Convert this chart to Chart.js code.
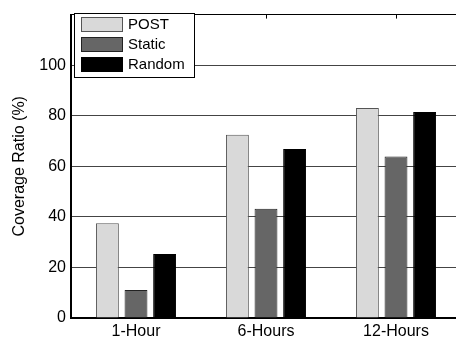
<!DOCTYPE html>
<html lang="en">
<head>
  <meta charset="UTF-8" />
  <title>Coverage Ratio</title>
  <script src="https://cdn.jsdelivr.net/npm/chart.js"></script>
  <style>
    html, body { margin: 0; padding: 0; background: #fff; overflow: hidden; }
    #wrap { width: 456px; height: 342px; overflow: hidden; }
  </style>
</head>
<body>
  <div id="wrap">
    <canvas id="chart" width="470" height="342" style="width:470px;height:342px;"></canvas>
  </div>

  <script>
    const categories = ["1-Hour", "6-Hours", "12-Hours"];
    const seriesNames = ["POST", "Static", "Random"];
    const postValues = [37.5, 72.5, 83.1];
    const staticValues = [11.1, 43.2, 63.9];
    const randomValues = [25.3, 66.8, 81.5];
    const yTicks = [0, 20, 40, 60, 80, 100, 120];

    const fills = ["#d9d9d9", "#666666", "#000000"];
    const borders = ["#555555", "#222222", "#000000"];

    // legend box drawn inside the plot, plus inward tick marks on the top edge
    const extras = {
      id: "extras",
      afterDraw(chart) {
        const c = chart.ctx;
        const x = chart.scales.x;
        const area = chart.chartArea;
        c.save();
        c.strokeStyle = "#000";
        c.lineWidth = 1;
        categories.forEach((cat, i) => {
          const px = Math.round(x.getPixelForValue(i)) + 0.5;
          c.beginPath();
          c.moveTo(px, area.top);
          c.lineTo(px, area.top + 4);
          c.stroke();
        });

        c.fillStyle = "#fff";
        c.fillRect(74, 13, 120, 64);
        c.strokeRect(74.5, 13.5, 120, 64);
        c.font = "15px 'Liberation Sans', Arial, sans-serif";
        c.textBaseline = "middle";
        chart.data.datasets.forEach((ds, i) => {
          const top = 17 + i * 20;
          c.fillStyle = ds.backgroundColor;
          c.fillRect(81, top, 42, 15);
          c.strokeStyle = ds.borderColor;
          c.strokeRect(81.5, top + 0.5, 41, 14);
          c.fillStyle = "#000";
          c.fillText(ds.label, 128, top + 8);
        });
        c.restore();
      }
    };

    new Chart(document.getElementById("chart").getContext("2d"), {
      type: "bar",
      data: {
        labels: categories,
        datasets: [postValues, staticValues, randomValues].map((vals, i) => ({
          label: seriesNames[i],
          data: vals,
          backgroundColor: fills[i],
          borderColor: borders[i],
          borderWidth: 1,
          categoryPercentage: 0.66,
          barPercentage: 0.8
        }))
      },
      options: {
        responsive: false,
        animation: false,
        layout: { padding: { top: 11, right: 9, left: 0, bottom: 0 } },
        plugins: { legend: { display: false }, tooltip: { enabled: false } },
        scales: {
          x: {
            grid: { display: false, drawTicks: false },
            border: { display: true, color: "#000", width: 2 },
            ticks: {
              color: "#000",
              font: { family: "'Liberation Sans', Arial, sans-serif", size: 16 },
              padding: 4
            },
            afterFit(scale) { scale.height = 24; }
          },
          y: {
            min: 0,
            max: 120,
            afterBuildTicks(scale) { scale.ticks = yTicks.map(v => ({ value: v })); },
            grid: {
              color: ctx => (ctx.tick && ctx.tick.value === 120 ? "#000" : "#444"),
              lineWidth: 1,
              drawTicks: false
            },
            border: { display: true, color: "#000", width: 2 },
            ticks: {
              color: "#000",
              padding: 5,
              font: { family: "'Liberation Sans', Arial, sans-serif", size: 16 },
              callback: v => (v === 120 ? "" : v)
            },
            title: {
              display: true,
              text: "Coverage Ratio (%)",
              color: "#000",
              font: { family: "'Liberation Sans', Arial, sans-serif", size: 16 },
              padding: { top: 10, bottom: 0 }
            },
            afterFit(scale) { scale.width = 71; }
          }
        }
      },
      plugins: [extras]
    });
  </script>
</body>
</html>
